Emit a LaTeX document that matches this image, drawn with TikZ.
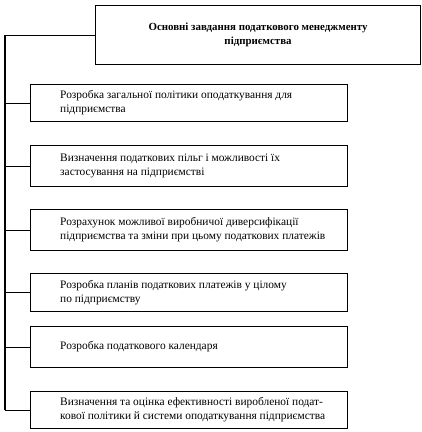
\documentclass[tikz,border=0pt]{standalone}
\usepackage{fontspec}
\setmainfont{Liberation Serif}
\usetikzlibrary{positioning}
\begin{document}
\begin{tikzpicture}[x=1pt, y=1pt,
  taskbox/.style={draw, line width=1.1pt, rectangle, anchor=north west, minimum width=317pt, inner sep=0pt},
  tasktext/.style={anchor=west, align=left, inner sep=0pt, font=\fontsize{11.4}{14}\selectfont},
  link/.style={line width=1.1pt}]
\useasboundingbox (0,0) rectangle (422,-432);

% Main box at the top
\node[taskbox, minimum width=325pt, minimum height=59pt, align=center, font=\bfseries\fontsize{10.9}{14}\selectfont] (main) at (95,-5) {Основні завдання податкового менеджменту\\підприємства};

% Task boxes
\node[taskbox, minimum height=37pt] (b1) at (30,-84) {};
\node[tasktext, right=30pt of b1.west] (t1) {Розробка загальної політики оподаткування для\\підприємства};
\node[taskbox, minimum height=41pt] (b2) at (30,-145) {};
\node[tasktext, right=30pt of b2.west] (t2) {Визначення податкових пільг і можливості їх\\застосування на підприємстві};
\node[taskbox, minimum height=41pt] (b3) at (30,-209) {};
\node[tasktext, right=30pt of b3.west] (t3) {Розрахунок можливої виробничої диверсифікації\\підприємства та зміни при цьому податкових платежів};
\node[taskbox, minimum height=38pt] (b4) at (30,-273) {};
\node[tasktext, right=30pt of b4.west] (t4) {Розробка планів податкових платежів у цілому\\по підприємству};
\node[taskbox, minimum height=41pt] (b5) at (30,-326) {};
\node[tasktext, right=30pt of b5.west] (t5) {Розробка податкового календаря};
\node[taskbox, minimum height=37pt] (b6) at (30,-391) {};
\node[tasktext, right=30pt of b6.west] (t6) {Визначення та оцінка ефективності виробленої подат-\\кової політики й системи оподаткування підприємства};

% Left trunk and branches
\coordinate (trunk) at (5,0);
\draw[link] (main.west -| trunk) -- (b6.west -| trunk);
\draw[link] (main.west) -- (main.west -| trunk);
\draw[link] (b1.west) -- (b1.west -| trunk);
\draw[link] (b2.west) -- (b2.west -| trunk);
\draw[link] (b3.west) -- (b3.west -| trunk);
\draw[link] (b4.west) -- (b4.west -| trunk);
\draw[link] (b5.west) -- (b5.west -| trunk);
\draw[link] (b6.west) -- (b6.west -| trunk);
\end{tikzpicture}
\end{document}
